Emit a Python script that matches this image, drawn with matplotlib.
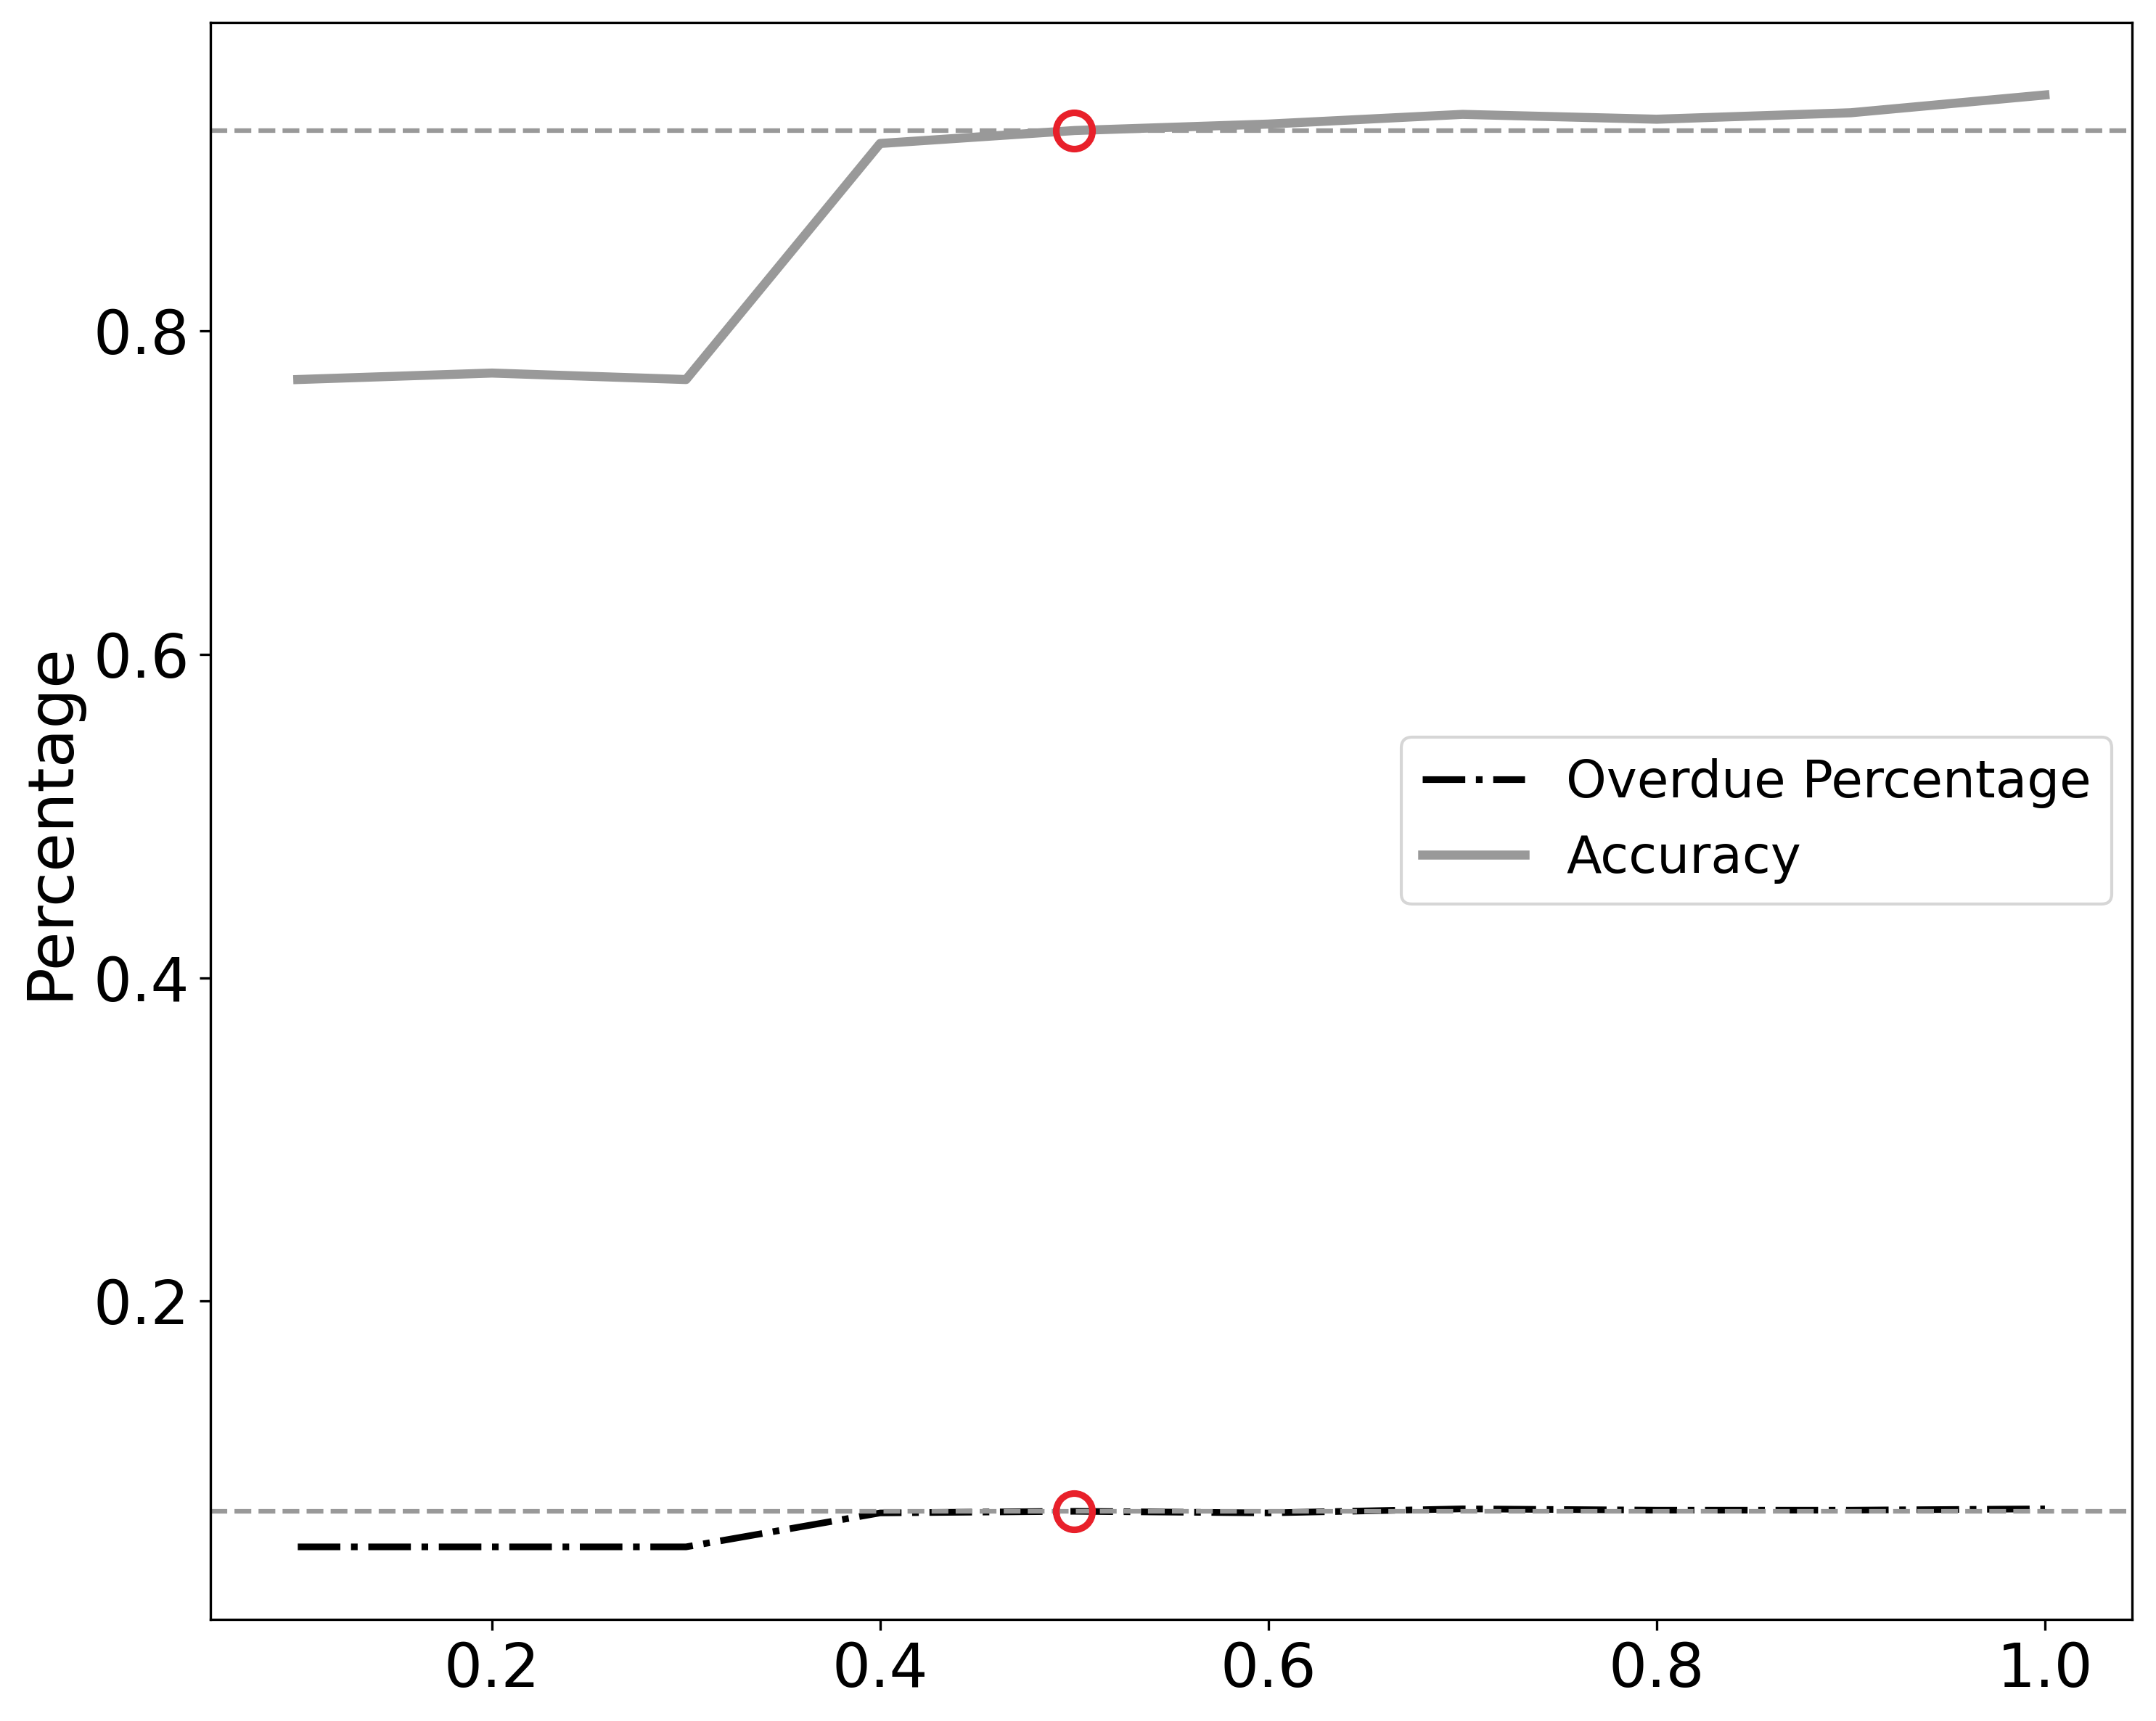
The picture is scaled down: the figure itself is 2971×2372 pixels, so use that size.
import matplotlib
matplotlib.use("Agg")
import matplotlib.pyplot as plt
import numpy as np

# Umbral (threshold) values on the x axis
umbral = [0.1, 0.2, 0.3, 0.4, 0.5, 0.6, 0.7, 0.8, 0.9, 1.0]

# Series
overdue = [0.048, 0.048, 0.048, 0.069, 0.070, 0.069, 0.0715, 0.0707, 0.0707, 0.0715]
accuracy = [0.770, 0.774, 0.770, 0.916, 0.924, 0.928, 0.934, 0.931, 0.935, 0.946]

# Chosen point
best_x = 0.5
best_overdue = 0.070
best_accuracy = 0.924

fig = plt.figure(figsize=(2971 / 300, 2372 / 300), dpi=300)
ax = fig.add_subplot(111)
fig.subplots_adjust(left=0.0976, right=0.989, top=0.987, bottom=0.059)

ax.plot(umbral, overdue, linestyle='-.', color='black', linewidth=2.2, label='Overdue Percentage')
ax.plot(umbral, accuracy, linestyle='-', color='#999999', linewidth=3, label='Accuracy')

ax.axhline(best_accuracy, color='#999999', linestyle='--', linewidth=1.5)
ax.axhline(best_overdue, color='#999999', linestyle='--', linewidth=1.5)

ax.plot([best_x], [best_accuracy], marker='o', markersize=12, markerfacecolor='none',
        markeredgecolor='#e8202a', markeredgewidth=2.2, linestyle='none')
ax.plot([best_x], [best_overdue], marker='o', markersize=12, markerfacecolor='none',
        markeredgecolor='#e8202a', markeredgewidth=2.2, linestyle='none')

ax.set_xticks([0.2, 0.4, 0.6, 0.8, 1.0])
ax.set_yticks([0.2, 0.4, 0.6, 0.8])
ax.tick_params(labelsize=20)
ax.set_ylabel('Percentage', fontsize=21)
ax.legend(loc='center right', fontsize=17, borderaxespad=0.4)

plt.savefig('out.png', dpi=300)
